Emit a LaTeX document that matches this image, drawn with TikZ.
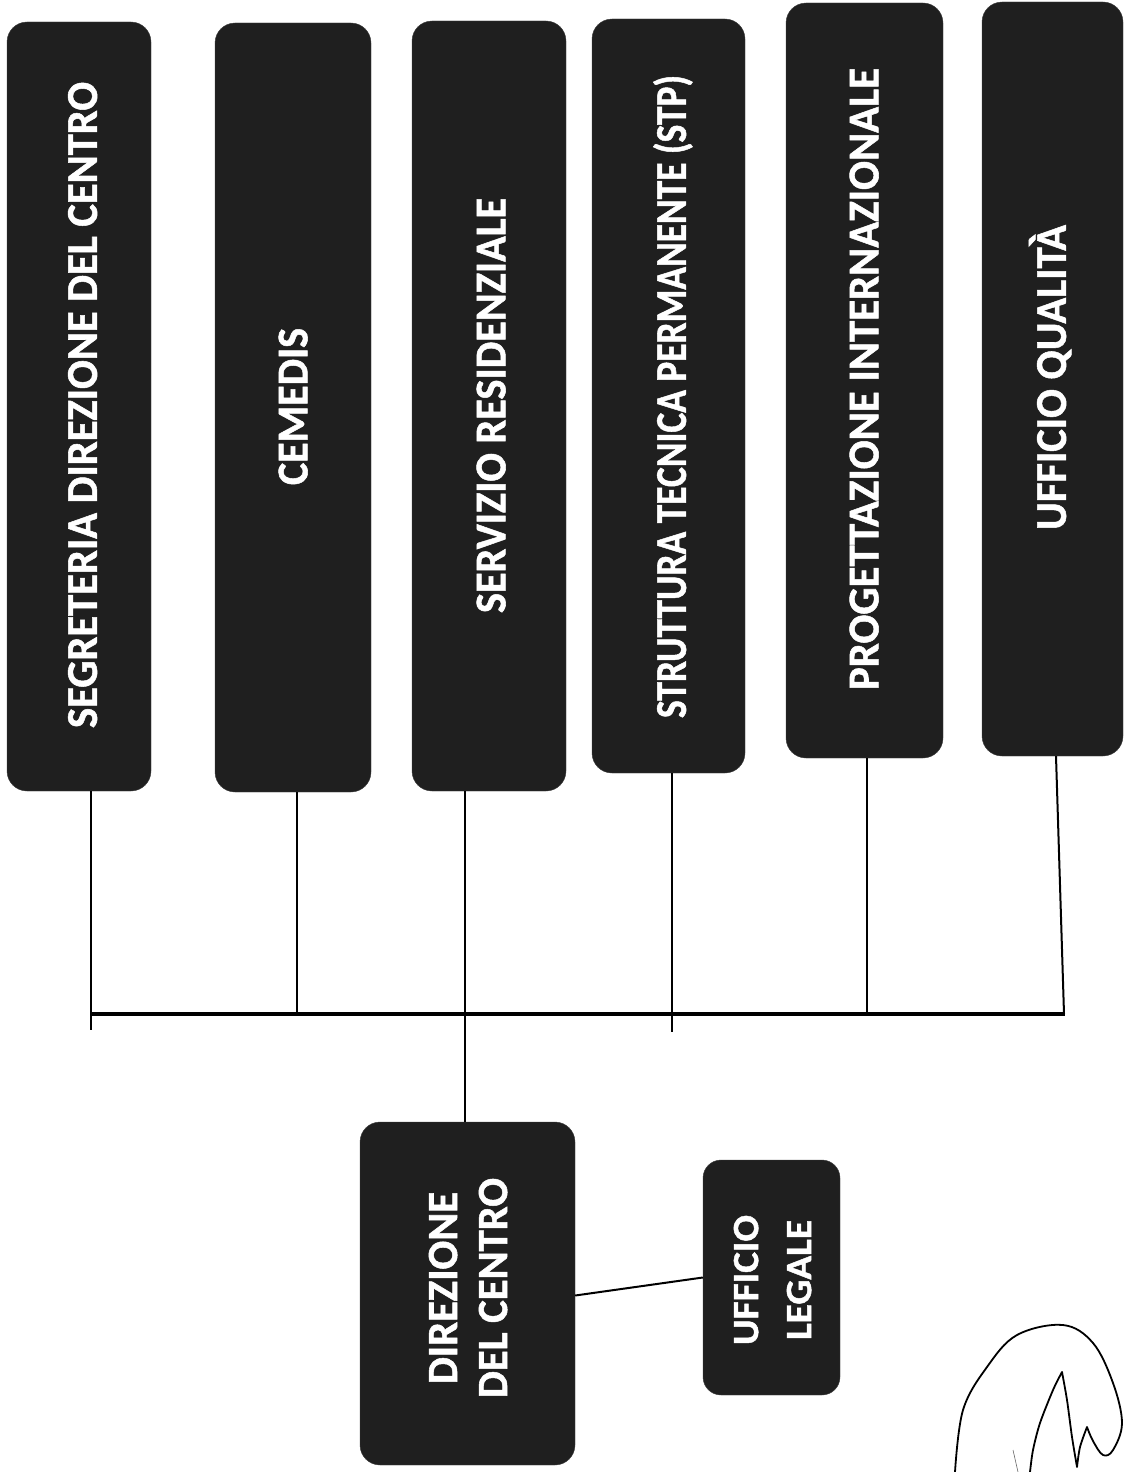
\documentclass[tikz,border=0pt]{standalone}
\usepackage{fontspec}
\setmainfont{Carlito}[BoldFeatures={FakeBold=1.2}]
\newcommand\fitlen[2]{\resizebox{#1}{\height}{#2}}
\begin{document}
\begin{tikzpicture}[x=1pt,y=-1pt,
  box/.style={draw=black!75, fill=black!88, rounded corners=20pt, inner sep=0pt},
  lbl/.style={text=white, font=\bfseries\fontsize{44}{52}\selectfont, inner sep=0pt, rotate=90,
              text height=27.8pt, text depth=0pt},
  lbl2/.style={text=white, inner sep=0pt, rotate=90},
  conn/.style={line width=2pt},
  bar/.style={line width=3.5pt},
  sig/.style={line width=1.8pt, line cap=round, line join=round}]
\useasboundingbox (0,0) rectangle (1130,1472);

% upper boxes
\node[box, minimum width=144pt, minimum height=769pt] (b1) at (79,406.5) {};
\node[box, minimum width=156pt, minimum height=769pt] (b2) at (293,407.5) {};
\node[box, minimum width=154pt, minimum height=770pt] (b3) at (489,406) {};
\node[box, minimum width=153pt, minimum height=754pt] (b4) at (668.5,396) {};
\node[box, minimum width=157pt, minimum height=755pt] (b5) at (864.5,380.5) {};
\node[box, minimum width=141pt, minimum height=754pt] (b6) at (1052.5,379) {};

\node[lbl] (t1) at (83,405) {\fitlen{646pt}{SEGRETERIA DIREZIONE DEL CENTRO}};
\node[lbl] (t2) at (293.5,406.5) {\fitlen{157pt}{CEMEDIS}};
\node[lbl] (t3) at (491.5,405.5) {\fitlen{415pt}{SERVIZIO RESIDENZIALE}};
\node[lbl] (t4) at (672,396.5) {\fitlen{643pt}{STRUTTURA TECNICA PERMANENTE (STP)}};
\node[lbl] (t5) at (864.5,379) {\fitlen{622pt}{PROGETTAZIONE INTERNAZIONALE}};
\node[lbl] (t6) at (1052,377.5) {\fitlen{305pt}{UFFICIO QUALITÀ}};

% lower boxes
\node[box, minimum width=215pt, minimum height=343pt] (d) at (467.5,1293.5) {};
\node[lbl2, font=\bfseries\fontsize{43}{50}\selectfont] (td) at (472,1288)
  {\fitlen{220pt}{\begin{tabular}{@{}c@{}}DIREZIONE\\DEL CENTRO\end{tabular}}};
\node[box, minimum width=137pt, minimum height=235pt, rounded corners=18pt] (u) at (771.5,1277.5) {};
\node[lbl2, font=\bfseries\fontsize{37}{53}\selectfont] (tu) at (774,1280)
  {\fitlen{130pt}{\begin{tabular}{@{}c@{}}UFFICIO\\LEGALE\end{tabular}}};

% junctions on the bar
\coordinate (j1) at (91,1014);
\coordinate (j2) at (297,1014);
\coordinate (j3) at (465,1014);
\coordinate (j4) at (672,1014);
\coordinate (j5) at (867,1014);
\coordinate (j6) at (1064,1014);
\coordinate (s1) at (91,1030);
\coordinate (s4) at (672,1032);

\draw[bar] ([xshift=-1pt]j1) -- ([xshift=1pt]j6);
\draw[conn] (b1.south -| j1) -- (j1) -- (s1);
\draw[conn] (b2.south -| j2) -- (j2);
\draw[conn] (b3.south -| j3) -- (j3) -- (d.north -| j3);
\draw[conn] (b4.south -| j4) -- (j4) -- (s4);
\draw[conn] (b5.south -| j5) -- (j5);
\draw[conn] ([xshift=3.5pt]b6.south) -- (j6);
\draw[conn] ([yshift=-2pt]d.east) -- (u.west);

% signature
\draw[sig] plot[smooth, tension=0.6] coordinates {(955,1472) (963,1410) (987,1367) (1017,1335) (1063,1325) (1093,1343) (1113,1383) (1122,1423) (1113,1450) (1103,1455) (1093,1441) (1087,1427)}
  -- plot[smooth, tension=0.5] coordinates {(1087,1427) (1080,1447) (1077,1467)}
  -- plot[smooth, tension=0.5] coordinates {(1077,1467) (1072,1437) (1067,1400) (1062,1372)}
  -- plot[smooth, tension=0.5] coordinates {(1062,1372) (1053,1390) (1040,1423) (1033,1450) (1030,1472)};
\draw[line width=0.6pt, black!60] (1013,1450) -- (1018,1472);
\end{tikzpicture}
\end{document}
